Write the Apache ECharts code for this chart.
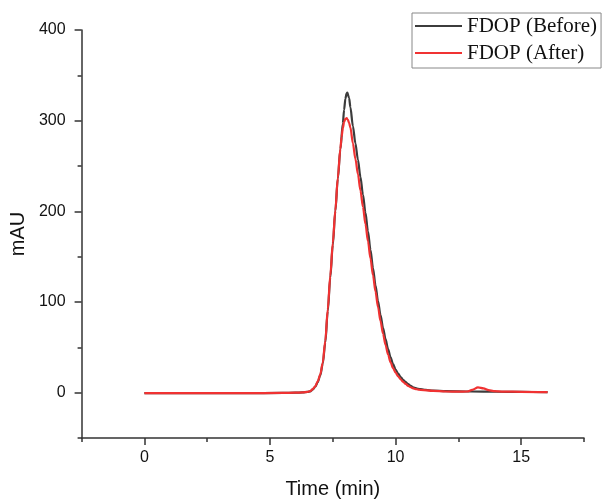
<!DOCTYPE html>
<html>
<head>
<meta charset="utf-8">
<script src="https://cdn.jsdelivr.net/npm/echarts@6/dist/echarts.min.js"></script>
<style>html,body{margin:0;padding:0;background:#fff;}#c{width:602px;height:504px;}</style>
</head>
<body>
<div id="c"></div>
<script>
const beforeTime = [0, 2, 4, 5.5, 6.0, 6.3, 6.5, 6.6, 6.7, 6.8, 6.9, 7.0, 7.1, 7.2, 7.3, 7.4, 7.5, 7.6, 7.7, 7.8, 7.9, 7.95, 8.0, 8.05, 8.08, 8.1, 8.15, 8.2, 8.3, 8.4, 8.5, 8.6, 8.7, 8.8, 8.9, 9.0, 9.1, 9.2, 9.3, 9.4, 9.5, 9.6, 9.7, 9.8, 9.9, 10.0, 10.1, 10.2, 10.3, 10.4, 10.5, 10.6, 10.7, 10.8, 10.9, 11.0, 11.2, 11.5, 12.0, 13.0, 14.0, 15.0, 16.05];
const beforeMAU = [-0.5, -0.5, -0.5, -0.3, 0, 0.3, 0.8, 1.4, 3.5, 6.5, 11.5, 19, 32, 55, 90, 127, 163, 200, 236, 268, 297, 312, 324, 330, 331, 330.5, 325, 315, 294, 275, 257, 238, 218.5, 198.5, 178, 157.5, 137.5, 118.5, 101, 85.5, 71.5, 59, 48, 39, 31.5, 25.5, 21, 17.3, 14.2, 11.6, 9.4, 7.5, 6, 5, 4.3, 3.8, 3.0, 2.3, 1.7, 1.3, 1.1, 0.8, 0.5];
const afterTime = [0, 2, 4, 5.5, 6.0, 6.3, 6.5, 6.6, 6.7, 6.8, 6.9, 7.0, 7.1, 7.2, 7.3, 7.4, 7.5, 7.6, 7.7, 7.8, 7.85, 7.9, 7.95, 8.0, 8.05, 8.1, 8.15, 8.2, 8.3, 8.4, 8.5, 8.6, 8.7, 8.8, 8.9, 9.0, 9.1, 9.2, 9.3, 9.4, 9.5, 9.6, 9.7, 9.8, 9.9, 10.0, 10.1, 10.2, 10.3, 10.4, 10.5, 10.6, 10.7, 10.8, 10.9, 11.0, 11.5, 12.0, 12.5, 12.85, 13.05, 13.28, 13.5, 13.7, 13.9, 14.3, 15.0, 16.05];
const afterMAU = [-0.5, -0.5, -0.5, -0.3, 0, 0.3, 0.9, 1.6, 3.8, 7, 12.5, 20, 33, 57, 92, 129, 165, 201, 237, 269, 282, 292, 298.5, 302, 302.7, 301, 297.5, 292.5, 275, 258, 241, 223, 205, 186, 167, 148, 129.5, 111.5, 94.5, 79, 65, 52.5, 42, 33.5, 27, 22, 18, 14.8, 12, 9.6, 7.6, 6, 4.8, 4, 3.4, 3.0, 1.9, 1.3, 1.1, 1.3, 3, 5.9, 4.8, 2.8, 1.8, 1.2, 0.9, 0.5];
const seriesNames = ['FDOP (Before)', 'FDOP (After)'];
const xMajorTicks = [0, 5, 10, 15];
const xMinorTicks = [-2.5, 2.5, 7.5, 12.5, 17.5];
const yMajorTicks = [0, 100, 200, 300, 400];
const yMinorTicks = [-50, 50, 150, 250, 350];
const xRange = [-2.5, 17.5];
const yRange = [-50, 400];

const zip = (a, b) => a.map((v, i) => [v, b[i]]);
const axisColor = '#333';
const labelFont = { color: '#111', fontSize: 16, fontFamily: 'Liberation Sans, Arial, sans-serif' };

const chart = echarts.init(document.getElementById('c'), null, { renderer: 'canvas' });
chart.setOption({
  backgroundColor: '#fff',
  animation: false,
  grid: { left: 79, right: 18, top: 30, bottom: 66, containLabel: false },
  legend: {
    data: seriesNames.map(n => ({ name: n, icon: 'rect' })),
    orient: 'vertical',
    left: 412, top: 13,
    padding: [2, 4, 4, 3],
    itemGap: 5,
    itemWidth: 47, itemHeight: 2,
    borderColor: '#888', borderWidth: 1,
    textStyle: { fontFamily: 'Liberation Serif, Times New Roman, serif', fontSize: 21, color: '#111', lineHeight: 22 }
  },
  xAxis: [{
    type: 'value', min: xRange[0], max: xRange[1],
    name: 'Time (min)', nameLocation: 'middle', nameGap: 41,
    nameTextStyle: { fontSize: 20, fontFamily: 'Liberation Sans, Arial, sans-serif', color: '#111' },
    axisLine: { show: true, onZero: false, lineStyle: { color: axisColor, width: 1.5 } },
    axisTick: { show: true, customValues: xMajorTicks, length: 7, lineStyle: { color: axisColor, width: 1.5 } },
    axisLabel: Object.assign({ customValues: xMajorTicks, margin: 12 }, labelFont),
    splitLine: { show: false }
  }, {
    type: 'value', min: xRange[0], max: xRange[1], position: 'bottom',
    axisLine: { show: false, onZero: false },
    axisTick: { show: true, customValues: xMinorTicks, length: 4, lineStyle: { color: axisColor, width: 1.5 } },
    axisLabel: { show: false },
    splitLine: { show: false }
  }],
  yAxis: [{
    type: 'value', min: yRange[0], max: yRange[1],
    name: 'mAU', nameLocation: 'middle', nameGap: 42,
    nameTextStyle: { fontSize: 20, fontFamily: 'Liberation Sans, Arial, sans-serif', color: '#111' },
    axisLine: { show: true, onZero: false, lineStyle: { color: axisColor, width: 1.5 } },
    axisTick: { show: true, customValues: yMajorTicks, length: 7, lineStyle: { color: axisColor, width: 1.5 } },
    axisLabel: Object.assign({ customValues: yMajorTicks, margin: 16 }, labelFont),
    splitLine: { show: false }
  }, {
    type: 'value', min: yRange[0], max: yRange[1], position: 'left',
    axisLine: { show: false, onZero: false },
    axisTick: { show: true, customValues: yMinorTicks, length: 4, lineStyle: { color: axisColor, width: 1.5 } },
    axisLabel: { show: false },
    splitLine: { show: false }
  }],
  series: [{
    name: seriesNames[0], type: 'line', data: zip(beforeTime, beforeMAU),
    symbol: 'none', smooth: 0.3, smoothMonotone: 'x',
    lineStyle: { color: '#3c3c3c', width: 2.2 }, itemStyle: { color: '#3c3c3c' }, z: 2
  }, {
    name: seriesNames[1], type: 'line', data: zip(afterTime, afterMAU),
    symbol: 'none', smooth: 0.3, smoothMonotone: 'x',
    lineStyle: { color: '#f03232', width: 2.2 }, itemStyle: { color: '#f03232' }, z: 3
  }]
});
</script>
</body>
</html>
